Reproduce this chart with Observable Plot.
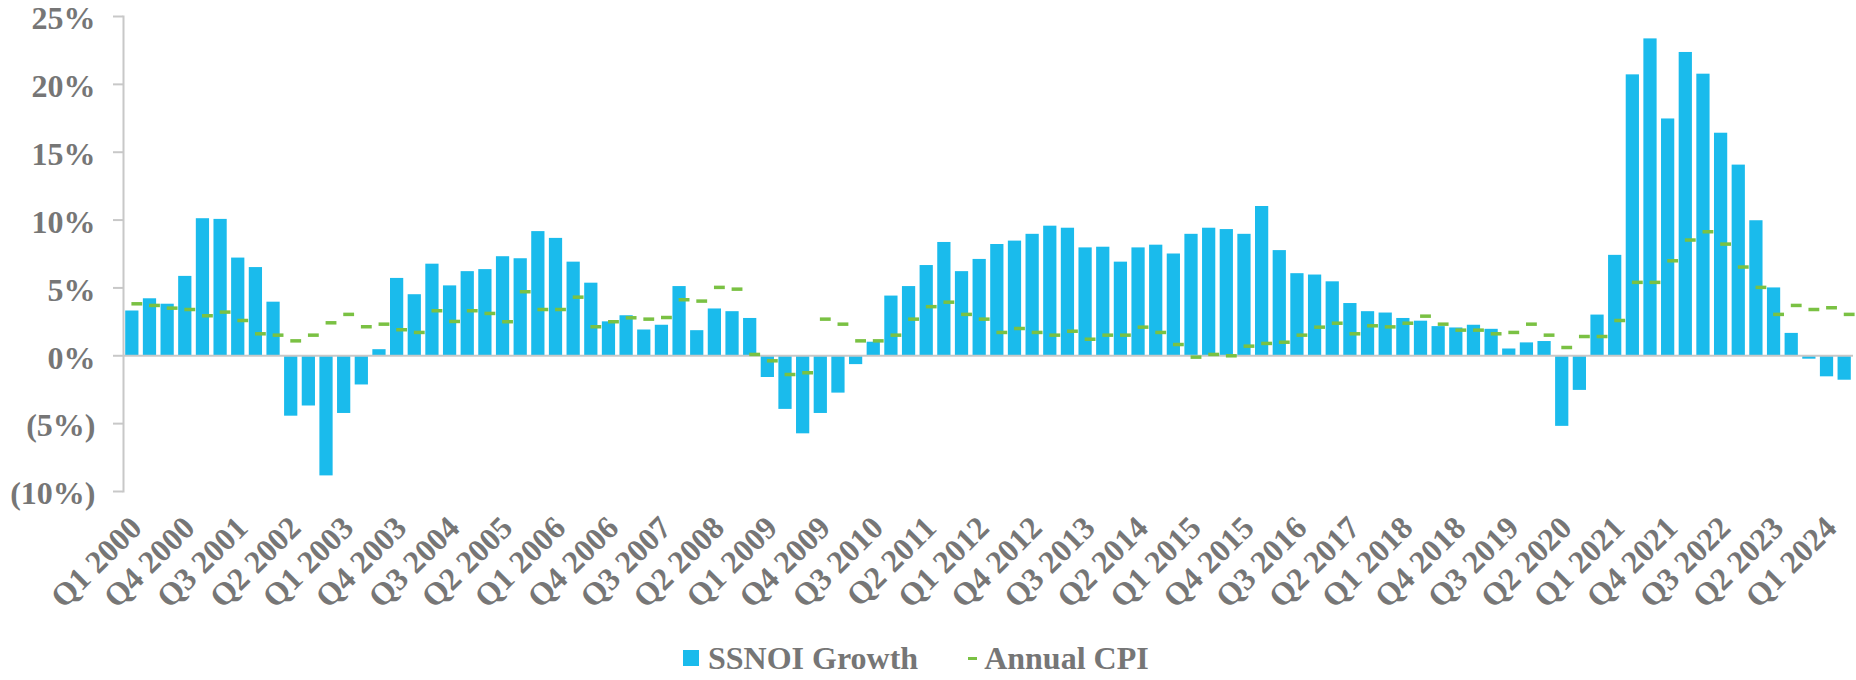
<!DOCTYPE html>
<html>
<head>
<meta charset="utf-8">
<script src="https://cdn.jsdelivr.net/npm/d3@7"></script>
<script src="https://cdn.jsdelivr.net/npm/@observablehq/plot@0.6"></script>
<style>
  html, body { margin: 0; padding: 0; background: #ffffff; }
  #wrap { position: relative; width: 1856px; height: 680px; overflow: hidden; font-family: "Liberation Serif", "Times New Roman", serif; }
  #legend { position: absolute; left: 683px; top: 642px; display: flex; align-items: center; font-size: 32px; font-weight: bold; color: #767676; line-height: 32px; white-space: nowrap; }
  .sw { display: inline-block; width: 16px; height: 16px; background: #1ABBEC; margin-right: 9px; }
  .dash { display: inline-block; width: 9px; height: 3px; background: #7AC143; margin-right: 7px; margin-left: 50px; }
</style>
</head>
<body>
<div id="wrap">
  <div id="chart"></div>
  <div id="legend"><span class="sw"></span><span>SSNOI Growth</span><span class="dash"></span><span>Annual CPI</span></div>
</div>
<script>
// Quarters Q1 2000 .. Q2 2024
const startYear = 2000;
const quarterCount = 98;
const quarters = [];
for (let i = 0; i < quarterCount; i++) quarters.push(`Q${(i % 4) + 1} ${startYear + Math.floor(i / 4)}`);

const tickLabels = ["Q1 2000","Q4 2000","Q3 2001","Q2 2002","Q1 2003","Q4 2003","Q3 2004","Q2 2005","Q1 2006","Q4 2006","Q3 2007","Q2 2008","Q1 2009","Q4 2009","Q3 2010","Q2 2011","Q1 2012","Q4 2012","Q3 2013","Q2 2014","Q1 2015","Q4 2015","Q3 2016","Q2 2017","Q1 2018","Q4 2018","Q3 2019","Q2 2020","Q1 2021","Q4 2021","Q3 2022","Q2 2023","Q1 2024"];

const yTicks = [-10, -5, 0, 5, 10, 15, 20, 25];

// SSNOI growth (%)
const ssnoi = [
  3.3, 4.2, 3.8, 5.85, 10.1, 10.05, 7.2, 6.5, 3.95, -4.45,
  -3.7, -8.85, -4.25, -2.15, 0.45, 5.7, 4.5, 6.75, 5.15, 6.2,
  6.35, 7.3, 7.15, 9.15, 8.65, 6.9, 5.35, 2.5, 2.95, 1.9,
  2.25, 5.1, 1.85, 3.45, 3.25, 2.75, -1.6, -3.95, -5.75, -4.25,
  -2.75, -0.65, 1.0, 4.4, 5.1, 6.65, 8.35, 6.2, 7.1, 8.2,
  8.45, 8.95, 9.55, 9.4, 7.95, 8.0, 6.9, 7.95, 8.15, 7.5,
  8.95, 9.4, 9.3, 8.95, 11.0, 7.75, 6.05, 5.95, 5.45, 3.85,
  3.25, 3.15, 2.75, 2.55, 2.15, 2.05, 2.25, 1.95, 0.5, 0.95,
  1.05, -5.2, -2.55, 3.0, 7.4, 20.7, 23.35, 17.45, 22.35, 20.75,
  16.4, 14.05, 9.95, 5.0, 1.65, -0.25, -1.55, -1.8
];

// Annual CPI (%)
const cpi = [
  3.83, 3.71, 3.51, 3.41, 2.95, 3.22, 2.6, 1.62, 1.52, 1.1,
  1.52, 2.43, 3.05, 2.14, 2.33, 1.92, 1.72, 3.32, 2.53, 3.32,
  3.12, 2.51, 4.72, 3.41, 3.41, 4.32, 2.14, 2.51, 2.8, 2.7,
  2.82, 4.13, 4.03, 5.04, 4.91, 0.1, -0.37, -1.38, -1.25, 2.7,
  2.33, 1.1, 1.1, 1.52, 2.7, 3.62, 3.95, 3.05, 2.7, 1.72,
  2.01, 1.72, 1.52, 1.81, 1.22, 1.52, 1.52, 2.11, 1.72, 0.83,
  -0.1, 0.1, 0.0, 0.71, 0.91, 1.0, 1.52, 2.11, 2.4, 1.62,
  2.21, 2.13, 2.4, 2.92, 2.33, 1.89, 1.89, 1.62, 1.72, 2.33,
  1.52, 0.61, 1.42, 1.42, 2.6, 5.41, 5.41, 7.0, 8.53, 9.14,
  8.23, 6.54, 5.04, 3.05, 3.71, 3.41, 3.54, 3.05
];

const data = quarters.map((q, i) => ({q, ssnoi: ssnoi[i], cpi: cpi[i]}));
const fmt = v => v < 0 ? `(${-v}%)` : `${v}%`;

const chart = Plot.plot({
  width: 1856,
  height: 625,
  marginLeft: 123,
  marginRight: 3,
  marginTop: 16,
  marginBottom: 134,
  style: "font-family: 'Liberation Serif', 'Times New Roman', serif; font-size: 32px; font-weight: bold; color: #767676; background: #ffffff; overflow: visible;",
  x: {domain: quarters, paddingInner: 0.25, paddingOuter: 0.125, label: null},
  y: {domain: [-10, 25], label: null},
  marks: [
    Plot.barY(data, {x: "q", y: "ssnoi", fill: "#1ABBEC"}),
    Plot.ruleY([0], {stroke: "#C8C8C8", strokeWidth: 2}),
    Plot.tickY(data, {x: "q", y: "cpi", stroke: "#7AC143", strokeWidth: 3.5, dx: 5, insetLeft: 1.2, insetRight: 1.2}),
    Plot.frame({anchor: "left", stroke: "#C8C8C8", strokeWidth: 2}),
    Plot.axisY({ticks: yTicks, tickFormat: null, text: null, tickSize: 10, stroke: "#C8C8C8", strokeWidth: 2, label: null}),
    Plot.axisY({ticks: yTicks, tickFormat: fmt, tickSize: 0, tickPadding: 28, dy: 2.5, fill: "#767676", label: null}),
    Plot.axisX({ticks: tickLabels, tickRotate: -45, tickSize: 0, tickPadding: 31, dx: 4, fill: "#767676", label: null})
  ]
});
document.getElementById("chart").appendChild(chart);
</script>
</body>
</html>
